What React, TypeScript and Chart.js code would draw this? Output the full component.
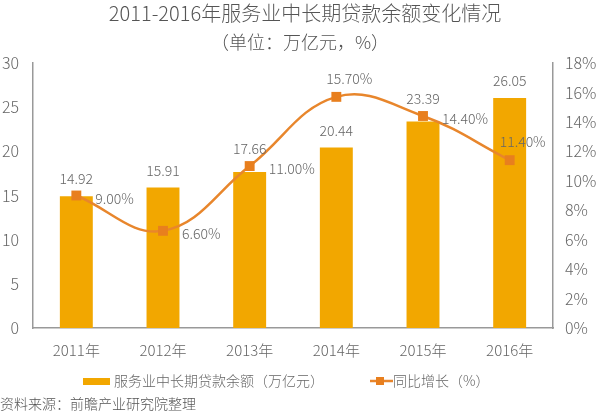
import React, { useEffect, useRef } from "react";
import { Chart, registerables } from "chart.js";

Chart.register(...registerables);

const categories = ["2011年", "2012年", "2013年", "2014年", "2015年", "2016年"];
const loanBalance = [14.92, 15.91, 17.66, 20.44, 23.39, 26.05];
const growthRate = [9.0, 6.6, 11.0, 15.7, 14.4, 11.4];
const rateLabelPos = ["right", "right", "right", "top", "right", "top"];
const titleText = "2011-2016年服务业中长期贷款余额变化情况";
const subtitleText = "（单位：万亿元，%）";
const barLegend = "服务业中长期贷款余额（万亿元）";
const lineLegend = "同比增长（%）";
const sourceText = "资料来源：前瞻产业研究院整理";

const FONT = '"Noto Sans CJK SC", "Noto Sans", sans-serif';
const BAR_COLOR = "#F2A700";
const LINE_COLOR = "#E8862C";
const POINT_COLOR = "#E87F1E";
const TEXT_COLOR = "#666666";

const labelPlugin = {
  id: "valueLabels",
  afterDatasetsDraw(chart: any) {
    const ctx = chart.ctx;
    const barMeta = chart.getDatasetMeta(0);
    const lineMeta = chart.getDatasetMeta(1);
    ctx.save();
    ctx.font = `300 14px ${FONT}`;
    ctx.fillStyle = TEXT_COLOR;
    ctx.textBaseline = "middle";
    barMeta.data.forEach((bar: any, i: number) => {
      const p = lineMeta.data[i];
      let ref = bar.y;
      if (Math.abs(p.y - bar.y) < 12) ref = Math.min(bar.y, p.y);
      ctx.textAlign = "center";
      ctx.fillText(loanBalance[i].toFixed(2), bar.x, ref - 17);
    });
    lineMeta.data.forEach((p: any, i: number) => {
      const txt = growthRate[i].toFixed(2) + "%";
      if (rateLabelPos[i] === "top") {
        ctx.textAlign = "center";
        ctx.fillText(txt, p.x + 13, p.y - 18);
      } else {
        ctx.textAlign = "left";
        ctx.fillText(txt, p.x + 19, p.y + 3);
      }
    });
    ctx.restore();
  },
  afterDraw(chart: any) {
    const ctx = chart.ctx;
    ctx.save();
    ctx.fillStyle = "#555";
    ctx.textAlign = "center";
    ctx.textBaseline = "middle";
    ctx.font = `300 20px ${FONT}`;
    ctx.fillText(titleText, 305, 13);
    ctx.font = `300 18px ${FONT}`;
    ctx.fillText(subtitleText, 300, 42);

    // legend
    const ly = 381;
    ctx.fillStyle = BAR_COLOR;
    ctx.fillRect(83, ly - 3, 27, 7);
    ctx.fillStyle = TEXT_COLOR;
    ctx.textAlign = "left";
    ctx.font = `300 14px ${FONT}`;
    ctx.fillText(barLegend, 114, ly);
    ctx.strokeStyle = LINE_COLOR;
    ctx.lineWidth = 2.5;
    ctx.beginPath();
    ctx.moveTo(370, ly);
    ctx.lineTo(393, ly);
    ctx.stroke();
    ctx.fillStyle = POINT_COLOR;
    ctx.fillRect(376, ly - 4, 8, 8);
    ctx.fillStyle = TEXT_COLOR;
    ctx.fillText(lineLegend, 393, ly);

    ctx.font = `300 14px ${FONT}`;
    ctx.fillStyle = "#555";
    ctx.fillText(sourceText, 0, 404);
    ctx.restore();
  },
};

export default function App() {
  const canvasRef = useRef<HTMLCanvasElement>(null);

  useEffect(() => {
    document.body.style.margin = "0";
    const chart = new Chart(canvasRef.current as HTMLCanvasElement, {
      type: "bar",
      data: {
        labels: categories,
        datasets: [
          {
            type: "bar",
            label: barLegend,
            data: loanBalance,
            backgroundColor: BAR_COLOR,
            yAxisID: "y",
            categoryPercentage: 1,
            barPercentage: 0.38,
            order: 2,
          },
          {
            type: "line",
            label: lineLegend,
            data: growthRate,
            borderColor: LINE_COLOR,
            borderWidth: 2.5,
            backgroundColor: POINT_COLOR,
            pointStyle: "rect",
            pointRadius: 7,
            pointBorderWidth: 0,
            tension: 0.4,
            yAxisID: "y1",
            order: 1,
          } as any,
        ],
      },
      options: {
        responsive: false,
        animation: false,
        layout: { padding: { top: 63, left: 0, right: 0, bottom: 0 } },
        plugins: {
          legend: { display: false },
          tooltip: { enabled: false },
          title: { display: false },
        },
        scales: {
          x: {
            grid: { display: false, drawTicks: false },
            border: { display: true, color: "#999", width: 1.5 },
            ticks: { color: TEXT_COLOR, font: { size: 15, family: FONT, weight: "300" as any }, padding: 13 },
            afterFit(scale: any) {
              scale.height = 89;
            },
          },
          y: {
            position: "left",
            min: 0,
            max: 30,
            grid: { display: false, drawTicks: false },
            border: { display: true, color: "#999", width: 1.5 },
            ticks: { stepSize: 5, color: TEXT_COLOR, font: { size: 16, family: FONT, weight: "300" as any }, padding: 14 },
            afterFit(scale: any) {
              scale.width = 33;
            },
          },
          y1: {
            position: "right",
            min: 0,
            max: 18,
            grid: { display: false, drawTicks: false },
            border: { display: true, color: "#999", width: 1.5 },
            ticks: {
              stepSize: 2,
              color: TEXT_COLOR,
              font: { size: 16, family: FONT, weight: "300" as any },
              padding: 12,
              callback: (v: any) => v + "%",
            },
            afterFit(scale: any) {
              scale.width = 47;
            },
          },
        },
      },
      plugins: [labelPlugin],
    });
    return () => chart.destroy();
  }, []);

  return (
    <div style={{ position: "absolute", left: 0, top: 0, width: 600, height: 417, background: "#fff" }}>
      <canvas ref={canvasRef} width={600} height={417} />
    </div>
  );
}
